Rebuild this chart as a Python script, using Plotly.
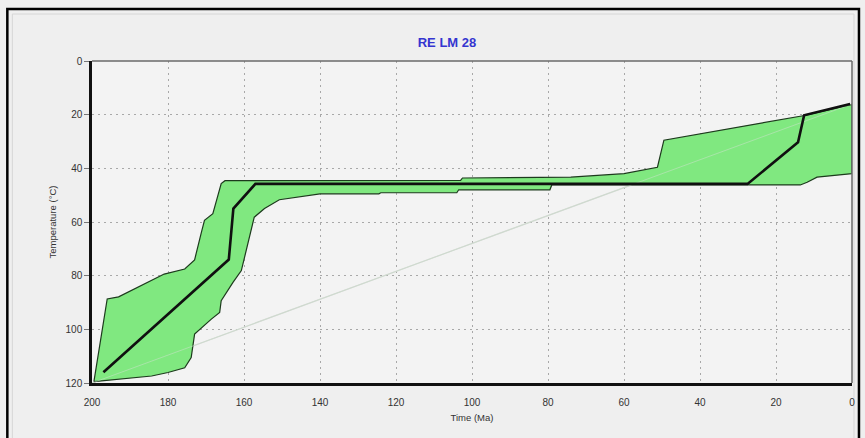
import plotly.graph_objects as go

# Time-temperature model for sample RE LM 28
# Envelope of acceptable paths (polygon traced clockwise: time in Ma, temperature in °C)
env_time = [199.5, 196.0, 193.0, 181.0, 175.6, 173.0, 171.2, 170.4, 168.2, 166.0, 165.0,
            140.0, 103.0, 102.5, 74.0, 60.0, 51.2, 49.5, 12.5, 0.0,
            0.0, 9.2, 11.8, 13.6,
            79.0, 79.5, 103.5, 104.0, 124.0, 124.5, 140.0, 150.7, 154.6, 157.3, 158.6,
            159.9, 160.7, 162.9, 166.0, 166.4, 168.6, 173.0, 173.9, 175.6, 180.0, 184.3,
            193.0, 199.5]
env_temp = [119.5, 88.7, 87.9, 79.4, 77.5, 74.1, 63.8, 59.4, 56.9, 45.7, 44.6,
            44.5, 44.5, 43.6, 43.3, 42.0, 39.6, 29.5, 20.3, 16.2,
            42.0, 43.3, 45.2, 46.2,
            46.2, 48.0, 48.0, 49.1, 49.1, 49.5, 49.5, 51.7, 55.0, 58.2, 65.7,
            73.8, 78.1, 82.5, 89.3, 93.7, 96.2, 101.8, 110.5, 114.3, 116.1, 117.4,
            118.6, 119.5]

# Best-fit thermal path
best_time = [197.0, 164.0, 162.8, 157.0, 27.5, 14.2, 12.6, 0.5]
best_temp = [116.0, 74.0, 55.0, 45.8, 45.8, 30.3, 20.2, 16.0]

# Reference line
ref_time = [200.0, 0.0]
ref_temp = [120.0, 16.0]

tick_vals_x = [200, 180, 160, 140, 120, 100, 80, 60, 40, 20, 0]
tick_vals_y = [0, 20, 40, 60, 80, 100, 120]

W, H = 865, 438
L, R, T, B = 92, 855, 61, 383


def px_x(p):
    return (p - L) / (R - L)


def px_y(p):
    return (B - p) / (B - T)


fig = go.Figure()

fig.add_trace(go.Scatter(
    x=ref_time, y=ref_temp, mode="lines",
    line=dict(color="#d4d4d4", width=1.2), hoverinfo="skip", showlegend=False))

fig.add_trace(go.Scatter(
    x=env_time, y=env_temp, mode="lines", fill="toself",
    fillcolor="#80e880", line=dict(color="#1d3a1d", width=1.2),
    hoverinfo="skip", showlegend=False))

fig.add_trace(go.Scatter(
    x=ref_time, y=ref_temp, mode="lines",
    line=dict(color="rgba(200,225,200,0.55)", width=1), hoverinfo="skip", showlegend=False))

fig.add_trace(go.Scatter(
    x=best_time, y=best_temp, mode="lines",
    line=dict(color="#101010", width=2.6), hoverinfo="skip", showlegend=False))

font_family = "Liberation Sans, Arial, sans-serif"

grid_style = dict(showgrid=True, gridcolor="#a8a8a8", griddash="2px,4px", gridwidth=1.3)

fig.update_layout(
    width=W, height=H,
    margin=dict(l=L, r=W - R, t=T, b=H - B),
    paper_bgcolor="#efefef",
    plot_bgcolor="#f3f3f3",
    font=dict(family=font_family, size=10, color="#333333"),
    title=dict(text="<b>RE LM 28</b>", x=447 / W, xanchor="center",
               y=1 - 42 / H, yanchor="middle", yref="container",
               font=dict(family=font_family, size=13, color="#3535d0")),
    xaxis=dict(
        range=[200, 0], tickvals=tick_vals_x, **grid_style,
        showline=True, linecolor="#111111", linewidth=2.5,
        ticks="outside", ticklen=8, tickcolor="rgba(0,0,0,0)",
        zeroline=False,
        title=dict(text="Time (Ma)", standoff=8, font=dict(size=9.5)),
    ),
    yaxis=dict(
        range=[120, 0], tickvals=tick_vals_y, **grid_style,
        showline=True, linecolor="#111111", linewidth=2.5,
        ticks="outside", ticklen=5, tickcolor="#777777",
        zeroline=False,
        title=dict(text="Temperature (°C)", standoff=8, font=dict(size=9.5)),
    ),
    shapes=[
        # top and right frame of the plotting area
        dict(type="line", xref="paper", yref="paper", x0=0, x1=1, y0=1, y1=1,
             line=dict(color="#6a6a6a", width=1.5)),
        dict(type="line", xref="paper", yref="paper", x0=1, x1=1, y0=0, y1=1,
             line=dict(color="#6a6a6a", width=1.5)),
        # outer window frame
        dict(type="rect", xref="paper", yref="paper",
             x0=px_x(7), x1=px_x(862), y0=px_y(460), y1=px_y(9),
             line=dict(color="#000000", width=2.5), layer="below"),
        dict(type="rect", xref="paper", yref="paper",
             x0=px_x(12), x1=px_x(857), y0=px_y(460), y1=px_y(14),
             line=dict(color="#d6d6d6", width=1), layer="below"),
    ],
)

fig.write_html("out.html")
